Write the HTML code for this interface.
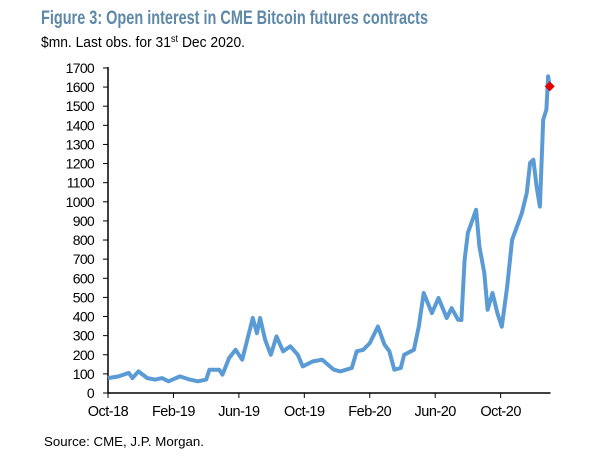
<!DOCTYPE html>
<html><head><meta charset="utf-8">
<style>
body{margin:0;background:#fff;width:609px;height:469px;overflow:hidden;font-family:"Liberation Sans",sans-serif;}
svg text{font-family:"Liberation Sans",sans-serif;}
</style></head>
<body>
<svg id="chart" width="609" height="469" xmlns="http://www.w3.org/2000/svg">
<text x="41" y="24" font-size="19" font-weight="bold" fill="#5d88a8" textLength="387" lengthAdjust="spacingAndGlyphs">Figure 3: Open interest in CME Bitcoin futures contracts</text>
<text x="41" y="47" font-size="15" fill="#000" textLength="204" lengthAdjust="spacingAndGlyphs">$mn. Last obs. for 31<tspan font-size="10" dy="-5">st</tspan><tspan dy="5"> Dec 2020.</tspan></text>
<g id="axes"></g>
<g id="series"></g>
<text x="44" y="446" font-size="12.5" fill="#000" textLength="160" lengthAdjust="spacingAndGlyphs">Source: CME, J.P. Morgan.</text>
</svg>
<script>
const months = [0,0.65,1.27,1.5,1.86,2.4,2.9,3.3,3.7,4.4,5.0,5.5,6.0,6.2,6.8,7.0,7.4,7.8,8.2,8.85,9.1,9.3,9.6,9.95,10.3,10.7,11.15,11.6,11.9,12.5,13.1,13.8,14.2,14.9,15.2,15.6,16.0,16.5,16.9,17.2,17.5,17.9,18.1,18.7,19.0,19.3,19.8,20.2,20.7,21.0,21.4,21.6,21.8,22.0,22.5,22.7,23.0,23.2,23.5,23.8,24.07,24.4,24.7,25.0,25.3,25.6,25.8,26.0,26.2,26.4,26.6,26.8,26.9,27.0];
const values = [78,87,105,78,113,78,70,78,61,87,70,61,70,122,122,96,183,226,174,392,313,392,279,200,296,218,244,200,139,165,174,122,113,131,218,226,261,348,253,218,122,131,200,226,348,523,418,497,392,444,383,382,696,838,958,766,628,435,523,418,347,557,801,871,942,1047,1204,1220,1080,975,1429,1482,1656,1604];
const yTicks = [0,100,200,300,400,500,600,700,800,900,1000,1100,1200,1300,1400,1500,1600,1700];
const xTickMonths = [0,4,8,12,16,20,24];
const xTickLabels = ["Oct-18","Feb-19","Jun-19","Oct-19","Feb-20","Jun-20","Oct-20"];
const lastValue = 1604;
const lastMonth = 27.0;

const X0=108, XPER=16.36, Y0=393, YPER=0.1912;
const xs = m => X0 + m*XPER;
const ys = v => Y0 - v*YPER;
const NS="http://www.w3.org/2000/svg";
const axes=document.getElementById('axes'), series=document.getElementById('series');
function mk(tag, attrs, parent){const e=document.createElementNS(NS,tag);for(const k in attrs)e.setAttribute(k,attrs[k]);parent.appendChild(e);return e;}

let e=mk('line',{x1:X0,y1:ys(1700)-1,x2:X0,y2:Y0,stroke:'#000','stroke-width':1.5},axes);


e=mk('line',{x1:X0,y1:Y0,x2:xs(27.05),y2:Y0,stroke:'#000','stroke-width':1.5},axes);


yTicks.forEach(v=>{
  const t=mk('line',{x1:X0-5,y1:ys(v),x2:X0,y2:ys(v),stroke:'#000','stroke-width':1},axes);
  
  
  const l=mk('text',{x:94,y:ys(v)+5,'font-size':14,'text-anchor':'end',fill:'#000','letter-spacing':'-0.7'},axes);
  l.textContent=v;
  
  
});
xTickMonths.forEach((m,i)=>{
  const t=mk('line',{x1:xs(m),y1:Y0,x2:xs(m),y2:Y0+5,stroke:'#000','stroke-width':1},axes);
  
  
  const l=mk('text',{x:xs(m),y:Y0+23,'font-size':14.5,'text-anchor':'middle',fill:'#000','letter-spacing':'-0.5'},axes);
  l.textContent=xTickLabels[i];
  
  
});
const pts=months.map((m,i)=>xs(m).toFixed(1)+','+ys(values[i]).toFixed(1)).join(' ');
const pl=mk('polyline',{points:pts,fill:'none',stroke:'#5b9bd5','stroke-width':4,'stroke-linejoin':'round'},series);


const cx=xs(lastMonth), cy=ys(lastValue);
const d=mk('polygon',{points:`${cx},${cy-5} ${cx+5},${cy} ${cx},${cy+5} ${cx-5},${cy}`,fill:'#e00000'},series);


</script>
</body></html>
